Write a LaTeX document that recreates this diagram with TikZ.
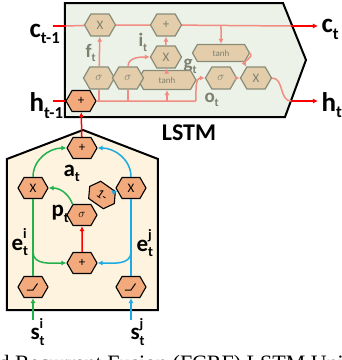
\documentclass[tikz,border=0pt]{standalone}
\usepackage{fontspec}
\usepackage{graphicx}
\setmainfont{Liberation Serif}
\newfontfamily\labfont{Carlito}
\usetikzlibrary{shapes.symbols,arrows.meta}

\definecolor{lstmbg}{RGB}{236,242,231}
\definecolor{fusbg}{RGB}{253,243,222}
\definecolor{pinkc}{RGB}{242,140,130}
\definecolor{tanhex}{RGB}{228,205,170}
\definecolor{hexbd}{RGB}{135,140,120}
\definecolor{orghex}{RGB}{242,170,125}
\definecolor{grn}{RGB}{34,177,76}
\definecolor{blu}{RGB}{28,170,230}
\definecolor{gtxt}{RGB}{125,128,110}

% letter with upper and lower index
\newcommand{\vlab}[3]{#1\rlap{\raisebox{.5em}{\scalebox{.62}{#2}}}\raisebox{-.25em}{\scalebox{.62}{#3}}}

\tikzset{
  hexnode/.style={signal, signal to=east and west, signal pointer angle=120,
    inner sep=0pt, minimum width=31pt, minimum height=22pt,
    font=\labfont\fontsize{13}{13}\selectfont},
  gatehex/.style={hexnode, fill=tanhex, draw=hexbd, line width=1.2pt, text=gtxt},
  tanhbox/.style={gatehex, minimum width=58pt, minimum height=19pt,
    font=\labfont\fontsize{9}{9}\selectfont},
  fushex/.style={hexnode, fill=orghex, draw=black, line width=1.1pt,
    minimum width=30pt, minimum height=21pt},
  relu/.style={fushex, path picture={
    \draw[line width=1pt] ([xshift=-6pt,yshift=-3pt]path picture bounding box.center)
      -- ++(6pt,0) -- ++(4.5pt,6.5pt);}},
  biglab/.style={font=\labfont\bfseries\fontsize{27}{27}\selectfont},
  midlab/.style={font=\labfont\bfseries\fontsize{23}{23}\selectfont},
  gatelab/.style={font=\labfont\bfseries\fontsize{19}{19}\selectfont, text=gtxt},
  pinkln/.style={draw=pinkc, line width=1.5pt},
  pinkarr/.style={pinkln, -{Latex[length=5pt,width=5pt]}},
  redln/.style={draw=red, line width=1.5pt},
  redarr/.style={redln, -{Latex[length=5pt,width=5pt]}},
  grnln/.style={draw=grn, line width=1.5pt},
  grnarr/.style={grnln, -{Latex[length=5pt,width=5pt]}},
  bluln/.style={draw=blu, line width=1.5pt},
  bluarr/.style={bluln, -{Latex[length=5pt,width=5pt]}},
}

\begin{document}
\begin{tikzpicture}[x=1pt,y=1pt]
  \useasboundingbox (0,0) rectangle (342,360);
  \clip (0,0) rectangle (342,360);

  % LSTM cell and fusion unit
  \draw[fill=lstmbg, line width=2pt] (65,357) -- (283,357) -- (306,300) -- (285,243) -- (65,243) -- cycle;
  \draw[fill=fusbg, line width=2pt] (7,50) -- (7,201) -- (83,230) -- (158,201) -- (158,50) -- cycle;
  \node[biglab, font=\labfont\bfseries\fontsize{24}{24}\selectfont, anchor=base] (lstm) at (189,220) {LSTM};

  % labels
  \node[biglab, anchor=base west] (cin) at (26,323) {\vlab{c}{}{t-1}};
  \node[biglab, anchor=base west] (hin) at (26,248) {\vlab{h}{}{t-1}};
  \node[biglab, anchor=base west] (cout) at (318,327) {\vlab{c}{}{t}};
  \node[biglab, anchor=base west] (hout) at (318,249) {\vlab{h}{}{t}};
  \node[gatelab, anchor=base west] (flab) at (82,303) {\vlab{f}{}{t}};
  \node[gatelab, anchor=base west] (ilab) at (135,313) {\vlab{i}{}{t}};
  \node[gatelab, anchor=base west] (glab) at (180,291) {\vlab{g}{}{t}};
  \node[gatelab, anchor=base west] (olab) at (201,258) {\vlab{o}{}{t}};
  \node[midlab, anchor=base west] (alab) at (60,184) {\vlab{a}{}{t}};
  \node[midlab, anchor=base west] (plab) at (48,143) {\vlab{p}{}{t}};
  \node[midlab, anchor=base west] (eilab) at (8,110) {\vlab{e}{i}{t}};
  \node[midlab, anchor=base west] (ejlab) at (133,109) {\vlab{e}{j}{t}};
  \node[midlab, anchor=base west] (si) at (27,20) {\vlab{s}{i}{t}};
  \node[midlab, anchor=base west] (sj) at (127,20) {\vlab{s}{j}{t}};

  % LSTM gates
  \node[fushex] (hplus) at (81,259) {+};
  \node[gatehex] (fx) at (100,335) {X};
  \node[gatehex] (cplus) at (166,335) {+};
  \node[gatehex] (ix) at (166,303) {X};
  \node[tanhbox] (gtanh) at (167,280) {tanh};
  \node[gatehex] (fsig) at (99,282) {$\sigma$};
  \node[gatehex] (isig) at (128,282) {$\sigma$};
  \node[tanhbox, minimum width=57pt, minimum height=17pt] (otanh) at (221,307) {tanh};
  \node[gatehex] (osig) at (221,282) {$\sigma$};
  \node[gatehex] (ox) at (256,282) {X};

  % fusion nodes
  \node[fushex] (aplus) at (82,212) {+};
  \node[fushex] (xi) at (33,172) {X};
  \node[fushex] (xj) at (131,172) {X};
  \node[fushex] (psig) at (82,145) {$\sigma$};
  \node[fushex, rotate=-35] (oneminus) at (102,165) {1-};
  \node[fushex] (eplus) at (82,97) {+};
  \node[relu] (ri) at (33,73) {};
  \node[relu] (rj) at (131,73) {};

  % free ends
  \coordinate (cs) at (53,334);
  \coordinate (cl) at (66,334);
  \coordinate (cr) at (291,334);
  \coordinate (hs) at (53,259);
  \coordinate (hr) at (291,259);
  \coordinate (bend) at (196,259);
  \coordinate (jf) at (99,259);
  \coordinate (ji) at (128,259);
  \coordinate (jg) at (167,259);
  \coordinate (jo) at (221,334);
  \coordinate (gs) at (33,40);
  \coordinate (bs) at (131,40);
  \coordinate (gj) at (33,108);
  \coordinate (bj) at (131,108);

  % LSTM connectors
  \draw[redln] (cs) -- (cl);
  \draw[pinkln] (cl) -- (fx) -- (cplus) -- (cr);
  \draw[redarr] (cr) -- (cout.west |- cr);
  \draw[redln] (hs) -- (hplus.west);
  \draw[pinkln] (hplus) -- (bend);
  \draw[pinkln] (jf) -- (fsig);
  \draw[pinkln] (ji) -- (isig);
  \draw[pinkarr] (jg) -- (gtanh);
  \draw[pinkarr] (fsig) -- (fx);
  \draw[pinkarr] (isig.north) to[out=90,in=180] (ix.west);
  \draw[pinkarr] (gtanh) -- (ix);
  \draw[pinkarr] (ix) -- (cplus);
  \draw[pinkarr] (jo) -- (otanh);
  \draw[pinkarr] (otanh.east) to[out=-40,in=120] (ox.north west);
  \draw[pinkarr] (bend) to[out=90,in=180] (osig.west);
  \draw[pinkarr] (osig) -- (ox);
  \draw[pinkln] (ox.east) to[out=0,in=180] (hr);
  \draw[redarr] (hr) -- (hout.west |- hr);

  % fusion connectors
  \draw[grnarr] (gs) -- (ri);
  \draw[grnln] (ri) -- (xi);
  \draw[grnarr] (gj) to[out=-90,in=180] (eplus.west);
  \draw[grnarr] (xi.north) to[out=90,in=180] (aplus.west);
  \draw[grnarr] (psig.north west) to[out=110,in=0] (xi.east);
  \draw[bluarr] (bs) -- (rj);
  \draw[bluln] (rj) -- (xj);
  \draw[bluarr] (bj) to[out=-90,in=0] (eplus.east);
  \draw[bluarr] (xj.north) to[out=90,in=0] (aplus.east);
  \draw[bluarr] (oneminus) -- (xj);
  \draw[redarr] (eplus) -- (psig);
  \draw[redarr] (aplus) -- (hplus);

  % cut caption
  \node[anchor=base west, font=\fontsize{22}{22}\selectfont] (cap) at (-5,-11) {d Recurrent Fusion (FCRF) LSTM Uni};
\end{tikzpicture}
\end{document}
